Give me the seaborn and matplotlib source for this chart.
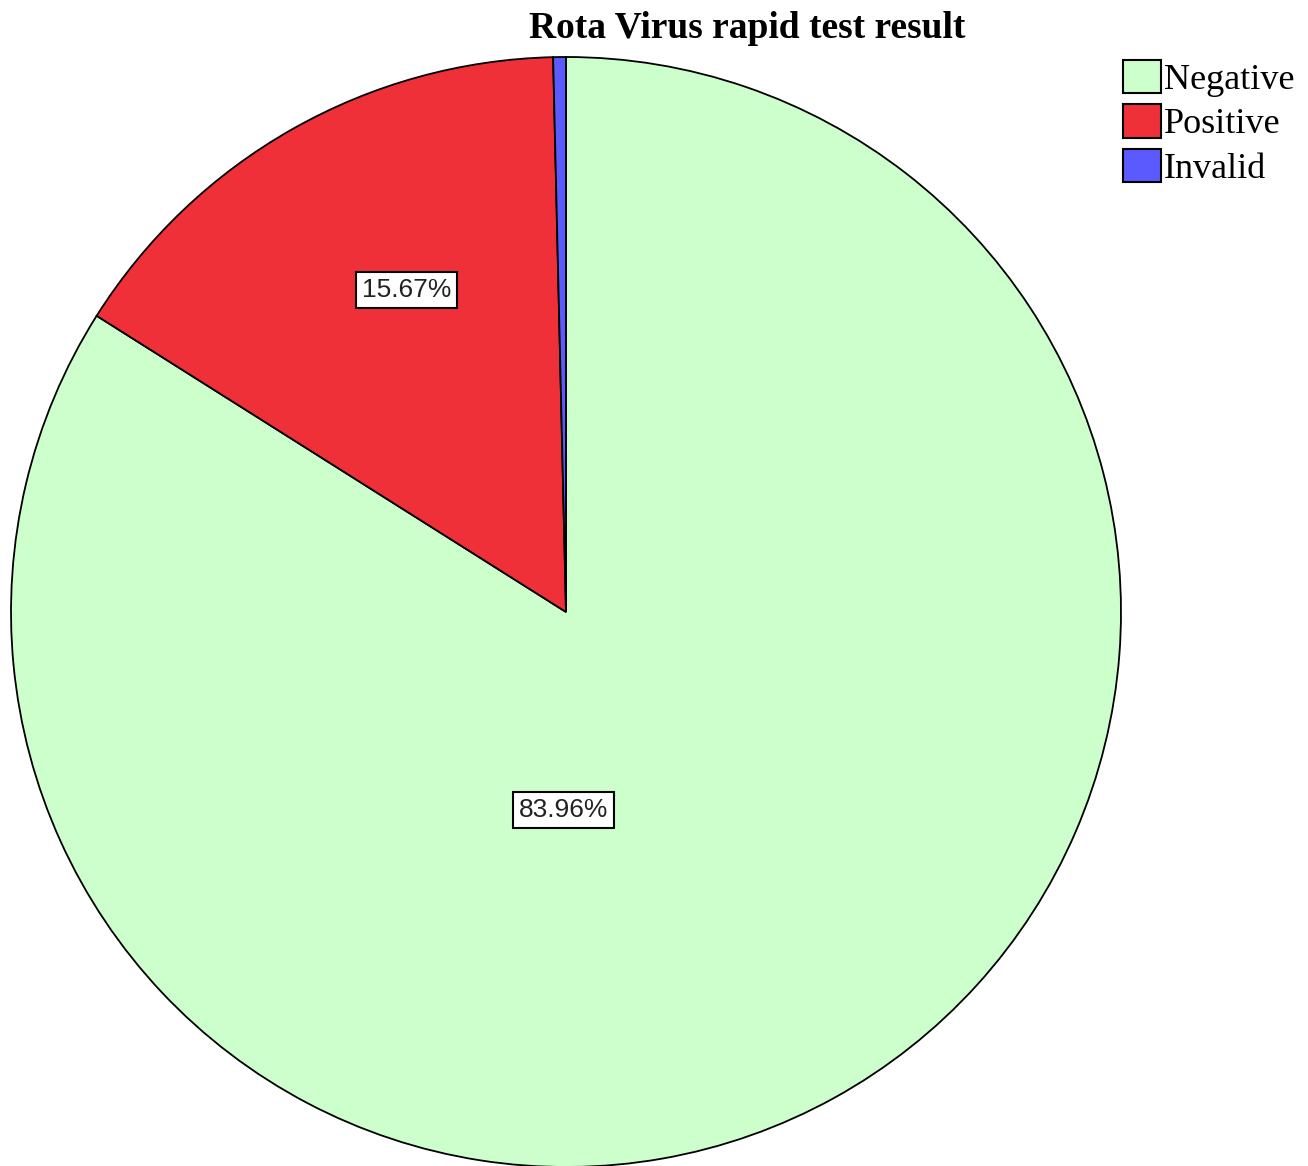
import matplotlib
matplotlib.use("Agg")
import matplotlib.pyplot as plt
import seaborn as sns
from matplotlib.patches import Patch

sns.set_theme(style="white")
plt.rcParams['font.family'] = ['DejaVu Sans']
plt.rcParams['text.color'] = 'black'

categories = ["Negative", "Positive", "Invalid"]
percents = [83.96, 15.67, 0.37]
colors = ["#CCFFCC", "#EF3039", "#5A5AFF"]
label_texts = ["83.96%", "15.67%", ""]

W, H = 1308, 1166
fig = plt.figure(figsize=(W / 100, H / 100), dpi=100)
ax = fig.add_axes([0, 0, 1, 1])

cx, cy, r = 566, H - 612, 555
wedges, _ = ax.pie(percents, colors=colors, startangle=90, counterclock=False,
                   center=(cx, cy), radius=r, frame=True,
                   wedgeprops=dict(edgecolor="black", linewidth=1.3))
ax.set_xlim(0, W)
ax.set_ylim(0, H)
ax.set_aspect("equal")
ax.axis("off")

# label positions as fraction of radius (SPSS style placement)
label_pos = [(-0.005, -0.357), (-0.287, 0.58)]
for (fx, fy), txt in zip(label_pos, label_texts[:2]):
    ax.text(cx + fx * r, cy + fy * r, txt, ha="center", va="center",
            fontsize=19, family="Liberation Sans", color="#222222",
            bbox=dict(boxstyle="square,pad=0.22", facecolor="white",
                      edgecolor="black", linewidth=1.5))

fig.text(747 / W, 1 - 29 / H, "Rota Virus rapid test result", ha="center", va="center",
         fontsize=27, fontweight="bold", family="Liberation Serif", color="black")

handles = [Patch(facecolor=c, edgecolor="black", linewidth=1.5) for c in colors]
leg = fig.legend(handles, categories, loc="upper left",
                 bbox_to_anchor=(1123 / W, 1 - 60 / H), frameon=False,
                 prop=dict(family="Liberation Serif", size=26),
                 handlelength=1.05, handleheight=1.05, handletextpad=0.08,
                 labelspacing=0.2, borderpad=0, borderaxespad=0)
for t in leg.get_texts():
    t.set_color("black")

fig.savefig("out.png", dpi=100)
